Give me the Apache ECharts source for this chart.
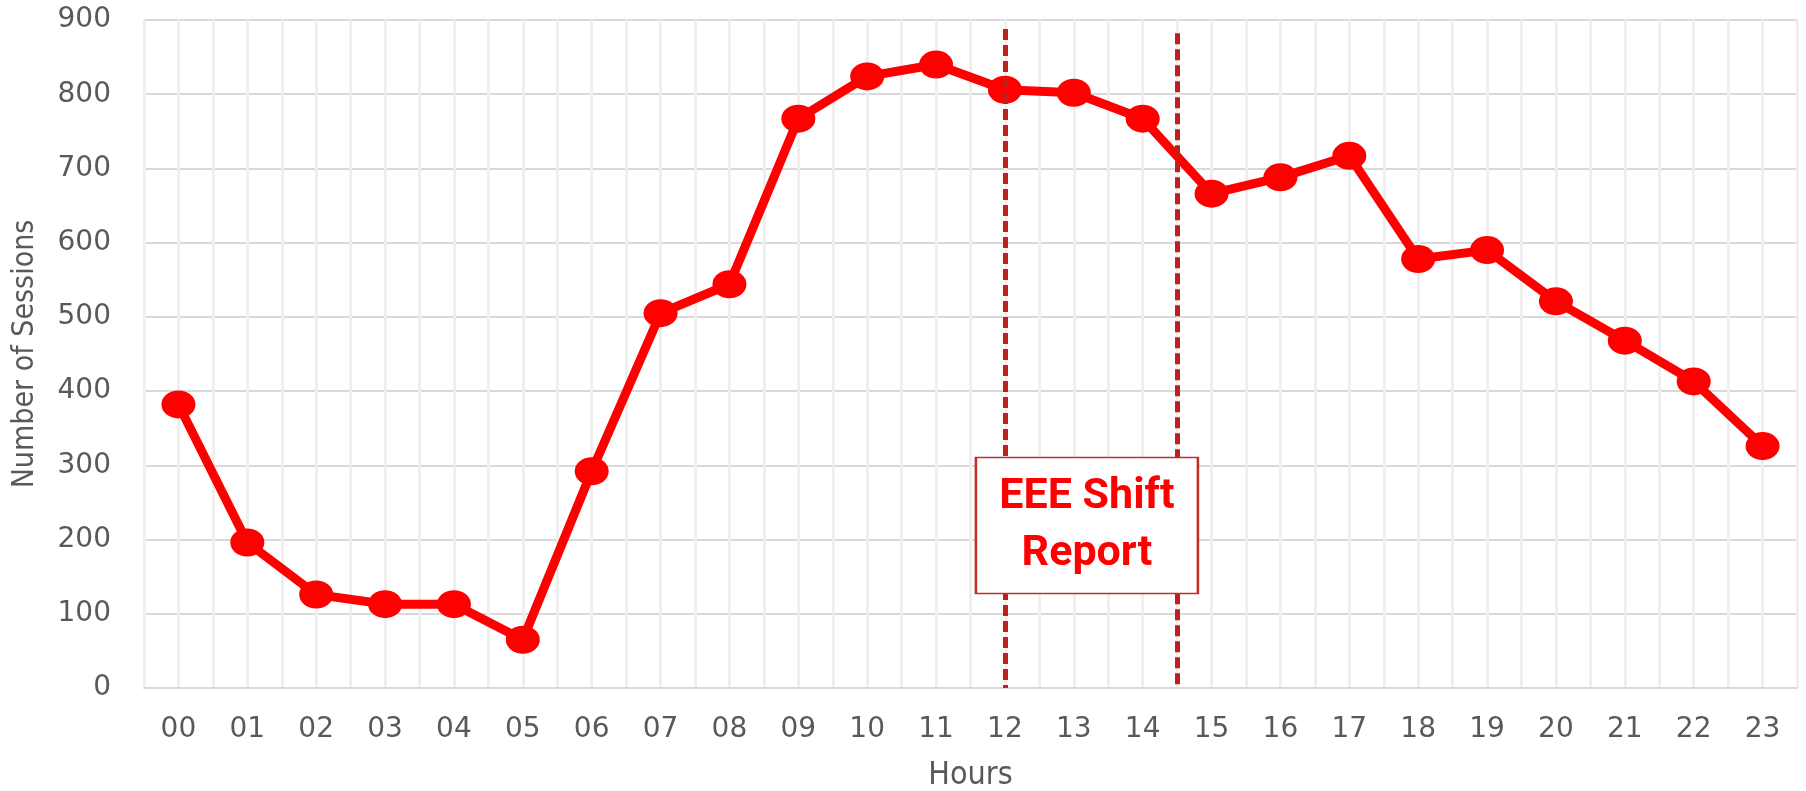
<!DOCTYPE html>
<html>
<head>
<meta charset="utf-8">
<script src="https://cdn.jsdelivr.net/npm/echarts@6/dist/echarts.min.js"></script>
<style>
html,body{margin:0;padding:0;background:#fff;}
#chart{width:1806px;height:791px;}
</style>
</head>
<body>
<div id="chart"></div>
<script>
// ---- data ----
const hours = ['00','01','02','03','04','05','06','07','08','09','10','11','12','13','14','15','16','17','18','19','20','21','22','23'];
const sessions = [382, 196, 126, 113, 113, 65, 292, 505, 544, 767, 824, 840, 806, 802, 767, 666, 688, 717, 578, 590, 521, 468, 413, 326];
const yTicks = {min: 0, max: 900, step: 100};
const shiftStart = 12;      // hour position of first dashed line
const shiftEnd = 14.5;      // hour position of second dashed line
const shiftTopA = 888, shiftTopB = 882;
const annotationText = 'EEE Shift\nReport';
const annotationPos = [13.19, 219];

const chart = echarts.init(document.getElementById('chart'), null, {renderer: 'canvas'});
const grey = '#595959';
chart.setOption({
  animation: false,
  backgroundColor: '#ffffff',
  grid: {left: 144, right: 9, top: 20, bottom: 103, containLabel: false, outerBoundsMode: 'none'},
  xAxis: [
    {
      type: 'category',
      data: hours,
      boundaryGap: true,
      name: 'Hours',
      nameLocation: 'middle',
      nameGap: 72,
      nameTextStyle: {color: grey, fontSize: 32, fontFamily: "'DejaVu Sans Condensed', 'DejaVu Sans', sans-serif"},
      axisLine: {show: true, lineStyle: {color: '#d9d9d9', width: 2}},
      axisTick: {show: false},
      axisLabel: {color: grey, fontSize: 28, fontFamily: 'DejaVu Sans', margin: 28},
      splitLine: {show: false},
      z: 3
    },
    {
      type: 'value',
      min: -0.5,
      max: hours.length - 0.5,
      interval: 0.5,
      show: true,
      axisLine: {show: false},
      axisTick: {show: false},
      axisLabel: {show: false},
      splitLine: {show: true, lineStyle: {color: '#efefef', width: 3}},
      position: 'bottom'
    }
  ],
  yAxis: {
    type: 'value',
    min: yTicks.min,
    max: yTicks.max,
    interval: yTicks.step,
    name: 'Number of Sessions',
    nameLocation: 'middle',
    nameGap: 104,
    nameTextStyle: {color: grey, fontSize: 30, fontFamily: "'DejaVu Sans Condensed', 'DejaVu Sans', sans-serif"},
    axisLine: {show: false},
    axisTick: {show: false},
    axisLabel: {color: grey, fontSize: 28, fontFamily: 'DejaVu Sans', margin: 33},
    splitLine: {show: true, lineStyle: {color: '#d9d9d9', width: 2}}
  },
  series: [
    {
      name: 'shift',
      type: 'line',
      xAxisIndex: 1,
      data: [],
      z: 3,
      silent: true,
      markLine: {
        silent: true,
        symbol: ['none', 'none'],
        label: {show: false},
        lineStyle: {color: '#c0201a', width: 5, type: [11, 5]},
        data: [
          [{coord: [shiftStart, shiftTopA]}, {coord: [shiftStart, yTicks.min]}],
          [{coord: [shiftEnd, shiftTopB]}, {coord: [shiftEnd, yTicks.min]}]
        ]
      }
    },
    {
      name: 'Sessions',
      type: 'line',
      data: sessions,
      xAxisIndex: 0,
      z: 4,
      symbol: 'circle',
      symbolSize: [34, 28],
      lineStyle: {color: '#ff0000', width: 9},
      itemStyle: {color: '#ff0000'}
    },
    {
      name: 'note',
      type: 'line',
      xAxisIndex: 1,
      data: [],
      z: 6,
      markPoint: {
        silent: true,
        data: [{
          coord: annotationPos,
          symbol: 'rect',
          symbolSize: [222, 136],
          itemStyle: {color: '#ffffff', borderColor: '#c0302a', borderWidth: 2},
          label: {
            show: true,
            position: 'inside',
            formatter: annotationText,
            color: '#ff0000',
            fontSize: 43,
            fontWeight: 'bold',
            lineHeight: 57,
            fontFamily: 'Roboto',
            align: 'center'
          }
        }]
      }
    }
  ]
});
</script>
</body>
</html>
